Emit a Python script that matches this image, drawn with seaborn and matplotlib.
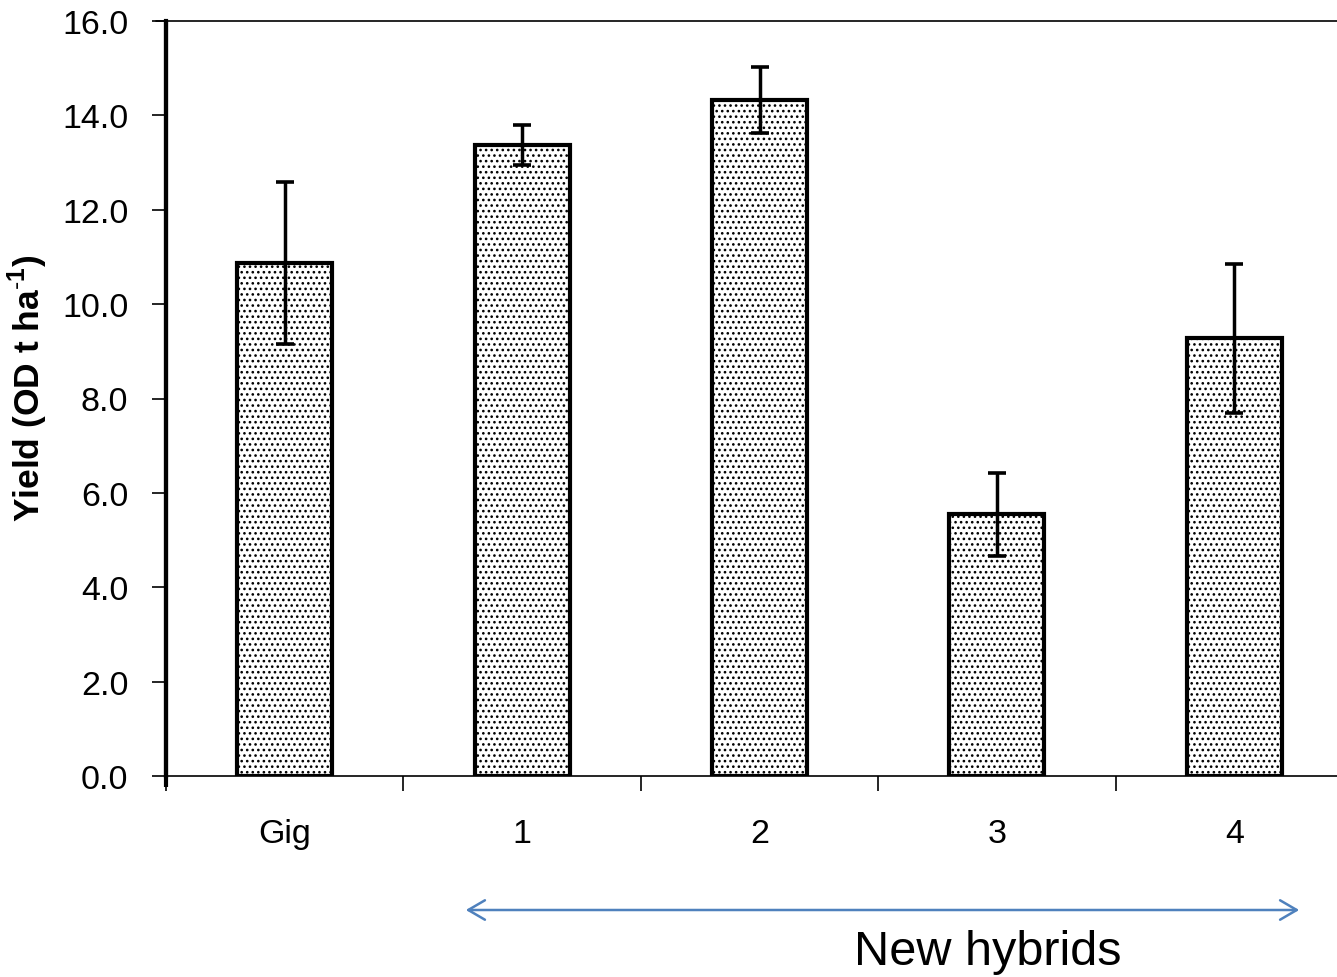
import matplotlib
matplotlib.use("Agg")
import matplotlib.pyplot as plt
import seaborn as sns
import pandas as pd
import numpy as np
from matplotlib.ticker import FormatStrFormatter

categories = ["Gig", "1", "2", "3", "4"]
yields = [10.87, 13.37, 14.33, 5.55, 9.28]
errors = [1.72, 0.42, 0.70, 0.88, 1.58]
y_ticks = [0, 2, 4, 6, 8, 10, 12, 14, 16]

sns.set_theme(style="white")
plt.rcParams["font.family"] = ["Liberation Sans", "DejaVu Sans"]
plt.rcParams["hatch.linewidth"] = 1.1
plt.rcParams["mathtext.fontset"] = "custom"
plt.rcParams["mathtext.rm"] = "Liberation Sans"
plt.rcParams["mathtext.bf"] = "Liberation Sans:bold"

df = pd.DataFrame({"cat": categories, "y": yields})

fig = plt.figure(figsize=(13.37, 9.78), dpi=100)
ax = fig.add_axes([166/1337, 1-777/978, 1187/1337, 755/978])

sns.barplot(data=df, x="cat", y="y", order=categories, width=0.4,
            color="#ffffff", edgecolor="black", linewidth=3,
            errorbar=None, ax=ax, saturation=1)
for p in ax.patches:
    p.set_hatch("...")
    p.set_facecolor("#ffffff")
    p.set_edgecolor("black")

ax.errorbar(np.arange(len(categories)), yields, yerr=errors, fmt="none",
            ecolor="black", elinewidth=2.5, capsize=6.5, capthick=2.6, zorder=5)

ax.set_xlim(-0.5, 4.5)
ax.set_ylim(0, 16)
ax.set_yticks(y_ticks)
ax.yaxis.set_major_formatter(FormatStrFormatter("%.1f"))
ax.tick_params(axis="y", direction="out", length=10, width=1.2, pad=17,
               labelsize=24.5, left=True, color="black", labelcolor="black")

ax.set_xticks(np.arange(-0.5, 5.0, 1.0))
ax.set_xticklabels([""] * 6)
ax.set_xticks(np.arange(len(categories)), minor=True)
ax.set_xticklabels(categories, minor=True)
ax.tick_params(axis="x", which="major", direction="out", length=11, width=1.2,
               bottom=True, color="black")
ax.tick_params(axis="x", which="minor", length=0, pad=30, labelsize=24.5,
               labelcolor="black")

ax.set_xlabel("")
ax.set_ylabel(r"Yield (OD t ha$^{\mathbf{\text{-}1}}$)", fontsize=25.5,
              fontweight="bold", color="black")
ax.yaxis.set_label_coords(-0.098, 0.515)

for s in ["top", "bottom"]:
    ax.spines[s].set_visible(True)
    ax.spines[s].set_color("black")
    ax.spines[s].set_linewidth(1.2)
ax.spines["right"].set_visible(False)
ax.spines["left"].set_color("black")
ax.spines["left"].set_linewidth(3)
ax.plot([0, 0], [-0.0146, 1], transform=ax.transAxes, color="black",
        lw=3, clip_on=False, solid_capstyle="butt")
ax.plot([-10/1187, 0], [1, 1], transform=ax.transAxes, color="black",
        lw=1.2, clip_on=False)

# "New hybrids" bracket arrow
fig.patches.append(matplotlib.patches.FancyArrowPatch(
    (463/1337, 1-911/978), (1302/1337, 1-911/978), transform=fig.transFigure,
    arrowstyle="<->,head_length=12,head_width=7", color="#4f81bd", lw=1.8,
    mutation_scale=1))
fig.text(988/1337, 1-953/978, "New hybrids", ha="center", va="center",
         fontsize=35, family=["Liberation Sans", "DejaVu Sans"],
         color="black")

fig.savefig("out.png", dpi=100, facecolor="white")
